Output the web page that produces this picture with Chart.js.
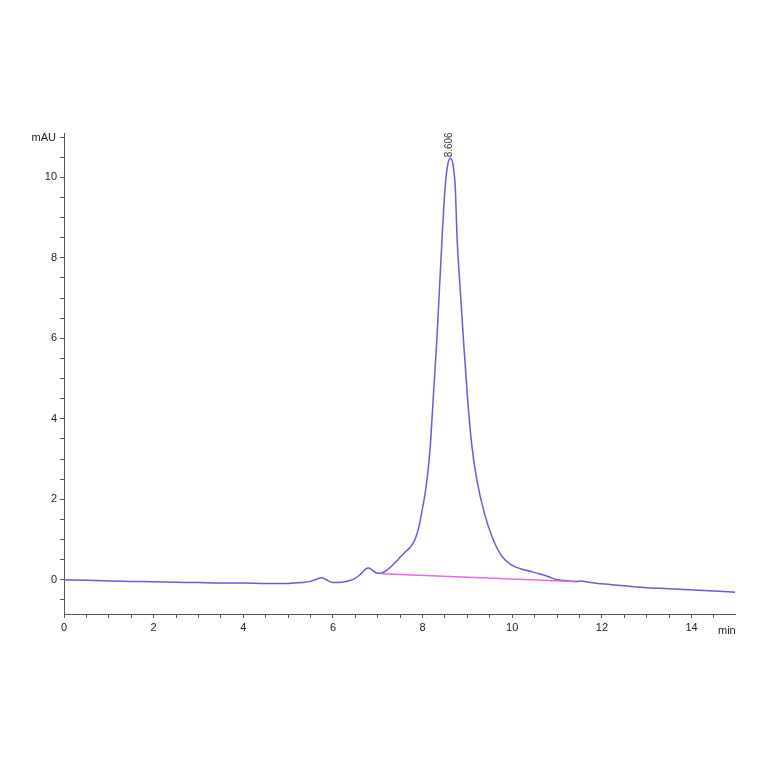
<!DOCTYPE html>
<html>
<head>
<meta charset="utf-8">
<script src="https://cdn.jsdelivr.net/npm/chart.js@4/dist/chart.umd.min.js"></script>
<style>
  html,body{margin:0;padding:0;background:#fff;}
  #wrap{width:764px;height:764px;}
</style>
</head>
<body>
<div id="wrap"><canvas id="chart"></canvas></div>
<script>
/* ===================== data ===================== */
const times  = [0,0.5,1,1.5,2,2.5,3,3.5,4,4.5,5,5.3,5.5,5.65,5.75,5.85,6,6.2,6.45,6.6,6.72,6.79,6.88,6.97,7.05,
                7.15,7.3,7.45,7.6,7.72,7.83,7.92,7.98,8.05,8.1,8.17,8.24,8.32,8.38,8.44,8.5,8.56,8.62,8.68,8.73,
                8.77,8.84,8.91,9,9.1,9.21,9.375,9.55,9.77,10,10.2,10.4,10.6,10.8,11,11.2,11.4,11.55,11.7,12,
                12.5,13,13.5,14,14.5,14.97];
const signal = [0,-0.01,-0.03,-0.04,-0.05,-0.06,-0.07,-0.08,-0.08,-0.09,-0.09,-0.07,-0.04,0.02,0.05,0,-0.07,-0.06,0.01,0.12,0.26,0.29,0.24,0.17,0.16,
                0.2,0.33,0.5,0.68,0.8,1.0,1.32,1.67,2.1,2.5,3.3,4.56,6.0,7.3,8.6,9.7,10.3,10.47,10.3,9.73,
                8.48,7.2,6.0,4.56,3.32,2.49,1.67,1.07,0.58,0.36,0.27,0.21,0.15,0.08,0.0,-0.02,-0.04,-0.03,-0.06,-0.1,
                -0.15,-0.2,-0.22,-0.25,-0.28,-0.31];

const baseTimes  = [7.09, 11.37];
const baseValues = [0.15, -0.04];

const peakTime  = 8.606;
const peakValue = 10.47;

const xTickLabels = [0,2,4,6,8,10,12,14];
const yTickLabels = [0,2,4,6,8,10];

/* ===================== helpers ===================== */
const pts = (xs,ys) => xs.map((x,i)=>({x, y:ys[i]}));
const minorTicks = (a,b) => { const t=[]; for(let v=a; v<=b+1e-9; v+=0.5) t.push({value:+v.toFixed(2)}); return t; };

const FONT = {family:'"Liberation Sans", Arial, sans-serif', size:11};

const annot = {
  id:'annot',
  afterDraw(c){
    const {ctx, chartArea:a, scales:{x,y}} = c;
    ctx.save();
    ctx.fillStyle = '#222';
    ctx.font = '11px "Liberation Sans", Arial, sans-serif';
    ctx.textBaseline = 'middle';
    ctx.textAlign = 'right';
    ctx.fillText('mAU', a.left - 8, a.top + 5);
    ctx.textAlign = 'left';
    ctx.fillText('min', a.right - 17, a.bottom + 17);
    // peak label, rotated
    ctx.translate(x.getPixelForValue(peakTime), y.getPixelForValue(peakValue) - 1);
    ctx.rotate(-Math.PI/2);
    ctx.font = '10px "Liberation Sans", Arial, sans-serif';
    ctx.fillStyle = '#333';
    ctx.fillText(peakTime.toFixed(3), 0, 0);
    ctx.restore();
  }
};

new Chart(document.getElementById('chart'), {
  type:'line',
  data:{datasets:[
    {data:pts(baseTimes,baseValues), borderColor:'#e86ae0', borderWidth:1.5, pointRadius:0, fill:false},
    {data:pts(times,signal), borderColor:'#5e5edf', borderWidth:1.5, pointRadius:0, fill:false,
     cubicInterpolationMode:'monotone'}
  ]},
  options:{
    responsive:true,
    maintainAspectRatio:false,
    animation:false,
    layout:{padding:{left:0, top:133, right:29, bottom:120}},
    plugins:{legend:{display:false}, tooltip:{enabled:false}},
    scales:{
      x:{
        type:'linear', min:0, max:14.97,
        afterBuildTicks: s => { s.ticks = minorTicks(0,14.5); },
        afterFit: s => { s.height = 30; },
        ticks:{color:'#222', font:FONT, padding:3, maxRotation:0, autoSkip:false,
               callback: v => xTickLabels.includes(v) ? String(v) : ''},
        grid:{drawOnChartArea:false, tickLength:4, tickColor:'#555'},
        border:{color:'#555', width:1}
      },
      y:{
        type:'linear', min:-0.85, max:11.1,
        afterBuildTicks: s => { s.ticks = minorTicks(-0.5,11); },
        afterFit: s => { s.width = 64; },
        ticks:{color:'#222', font:FONT, padding:3, autoSkip:false,
               callback: v => yTickLabels.includes(v) ? String(v) : ''},
        grid:{drawOnChartArea:false, tickLength:4, tickColor:'#555'},
        border:{color:'#555', width:1}
      }
    }
  },
  plugins:[annot]
});
</script>
</body>
</html>
